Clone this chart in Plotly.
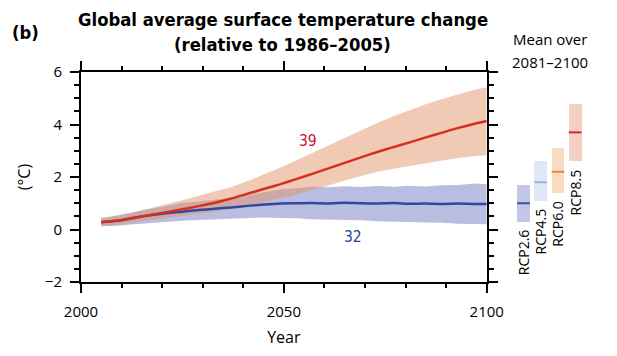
import plotly.graph_objects as go

# ---------------- data ----------------
years = [2005, 2009, 2013, 2017, 2021, 2025, 2029, 2033, 2037, 2041, 2045, 2049, 2053,
         2057, 2061, 2065, 2069, 2073, 2077, 2081, 2085, 2089, 2093, 2097, 2100]

rcp85_mean = [0.29, 0.34, 0.45, 0.55, 0.66, 0.77, 0.89, 1.02, 1.18, 1.36, 1.54, 1.72, 1.92,
              2.12, 2.33, 2.54, 2.75, 2.95, 3.14, 3.32, 3.51, 3.69, 3.87, 4.03, 4.13]
rcp85_high = [0.45, 0.52, 0.66, 0.80, 0.96, 1.11, 1.28, 1.44, 1.62, 1.84, 2.08, 2.35, 2.63,
              2.92, 3.22, 3.50, 3.79, 4.06, 4.31, 4.55, 4.77, 4.97, 5.15, 5.32, 5.42]
rcp85_low = [0.12, 0.18, 0.28, 0.36, 0.43, 0.50, 0.58, 0.68, 0.80, 0.92, 1.05, 1.18, 1.33,
             1.50, 1.68, 1.87, 2.05, 2.20, 2.31, 2.42, 2.53, 2.63, 2.72, 2.80, 2.83]

rcp26_mean = [0.28, 0.33, 0.44, 0.54, 0.62, 0.68, 0.74, 0.79, 0.84, 0.90, 0.95, 0.99, 1.00,
              1.01, 0.99, 1.02, 1.00, 0.99, 1.01, 0.98, 0.99, 0.97, 0.99, 0.97, 0.97]
rcp26_high = [0.42, 0.54, 0.68, 0.78, 0.92, 1.02, 1.07, 1.13, 1.20, 1.29, 1.42, 1.52, 1.58,
              1.63, 1.61, 1.65, 1.62, 1.66, 1.63, 1.67, 1.64, 1.69, 1.70, 1.75, 1.72]
rcp26_low = [0.12, 0.14, 0.20, 0.25, 0.30, 0.33, 0.36, 0.39, 0.40, 0.43, 0.46, 0.44, 0.43,
             0.39, 0.38, 0.35, 0.35, 0.31, 0.31, 0.29, 0.27, 0.26, 0.22, 0.21, 0.20]

model_counts = {"RCP8.5": 39, "RCP2.6": 32}
count_pos = {"RCP8.5": (2056, 3.38), "RCP2.6": (2067, -0.28)}

scenarios = ["RCP2.6", "RCP4.5", "RCP6.0", "RCP8.5"]
scen_mean = [1.0, 1.8, 2.2, 3.7]
scen_low = [0.3, 1.1, 1.4, 2.6]
scen_high = [1.7, 2.6, 3.1, 4.8]
scen_box_color = ["#c3c6e6", "#dfe8f7", "#f8dbc1", "#f3d0c6"]
scen_line_color = ["#3652a2", "#8fb6e2", "#e0893f", "#d8242b"]

x_ticks = [2000, 2050, 2100]
y_ticks = [-2, 0, 2, 4, 6]

RED_LINE = "#d5301e"
BLUE_LINE = "#2f4a9c"
LABEL_FONT = "Open Sans, Noto Sans, sans-serif"
TITLE_FONT = "DejaVu Sans Condensed, Liberation Sans Narrow, sans-serif"

fig = go.Figure()

# RCP2.6 band
fig.add_trace(go.Scatter(x=years, y=rcp26_low, mode="lines", line=dict(width=0),
                         hoverinfo="skip", showlegend=False))
fig.add_trace(go.Scatter(x=years, y=rcp26_high, mode="lines", line=dict(width=0),
                         fill="tonexty", fillcolor="rgb(185,189,224)", showlegend=False))
# RCP8.5 band
fig.add_trace(go.Scatter(x=years, y=rcp85_low, mode="lines", line=dict(width=0),
                         hoverinfo="skip", showlegend=False))
fig.add_trace(go.Scatter(x=years, y=rcp85_high, mode="lines", line=dict(width=0),
                         fill="tonexty", fillcolor="rgba(226,150,105,0.5)", showlegend=False))
# mean lines
fig.add_trace(go.Scatter(x=years, y=rcp26_mean, mode="lines",
                         line=dict(color=BLUE_LINE, width=2.5, shape="spline", smoothing=0.6),
                         showlegend=False))
fig.add_trace(go.Scatter(x=years, y=rcp85_mean, mode="lines",
                         line=dict(color=RED_LINE, width=2.5, shape="spline", smoothing=0.6),
                         showlegend=False))

# model counts
for name, col in (("RCP8.5", "#c8102e"), ("RCP2.6", "#2b3f8f")):
    cx, cy = count_pos[name]
    fig.add_annotation(x=cx, y=cy, xref="x", yref="y", text=str(model_counts[name]),
                       showarrow=False, xanchor="center", yanchor="middle",
                       font=dict(family=TITLE_FONT, size=15.5, color=col))

# right panel: boxes
idx = list(range(len(scenarios)))
fig.add_trace(go.Bar(x=idx, y=[h - l for h, l in zip(scen_high, scen_low)], base=scen_low,
                     width=0.74, marker=dict(color=scen_box_color, line=dict(width=0)),
                     xaxis="x2", yaxis="y", showlegend=False))
for i in idx:
    fig.add_trace(go.Scatter(x=[i - 0.37, i + 0.37], y=[scen_mean[i], scen_mean[i]],
                             mode="lines", line=dict(color=scen_line_color[i], width=2),
                             xaxis="x2", yaxis="y", showlegend=False))
    fig.add_annotation(x=i, y=scen_low[i], xref="x2", yref="y", text=scenarios[i],
                       textangle=-90, showarrow=False, xanchor="center", yanchor="top",
                       yshift=-6, font=dict(family=LABEL_FONT, size=14, color="black"))

# titles
def paper_text(x, y, text, font, size):
    fig.add_annotation(x=x, y=y, xref="paper", yref="paper", text=text,
                       showarrow=False, xanchor="center", yanchor="middle",
                       font=dict(family=font, size=size, color="black"))

paper_text(0.395, 1.248, "<b>Global average surface temperature change</b>", TITLE_FONT, 18.3)
paper_text(0.395, 1.129, "<b>(relative to 1986–2005)</b>", TITLE_FONT, 18.3)
paper_text(-0.108, 1.186, "<b>(b)</b>", TITLE_FONT, 18.3)
paper_text(0.918, 1.157, "Mean over", LABEL_FONT, 15)
paper_text(0.918, 1.048, "2081–2100", LABEL_FONT, 15)

axis_common = dict(showline=True, linecolor="black", linewidth=2, mirror="ticks",
                   ticks="outside", ticklen=9, tickwidth=2, tickcolor="black",
                   showgrid=False, zeroline=False, automargin=False,
                   tickfont=dict(family=LABEL_FONT, size=15, color="black"))

# page body has an 8px margin: figure is shrunk by 8px and margins measured from its corner
fig.update_layout(
    width=609, height=348,
    margin=dict(l=73, r=25, t=64, b=74),
    plot_bgcolor="white", paper_bgcolor="white",
    xaxis=dict(domain=[0, 0.794], range=[2000, 2100], tickvals=x_ticks,
               ticklabelstandoff=6,
               minor=dict(dtick=10, tick0=2000, ticks="outside", ticklen=4, tickwidth=1.5,
                          tickcolor="black"),
               title=dict(text="Year", standoff=12,
                          font=dict(family=LABEL_FONT, size=16, color="black")),
               **axis_common),
    yaxis=dict(range=[-2, 6], tickvals=y_ticks,
               ticktext=["−2", "0", "2", "4", "6"],
               ticklabelstandoff=5,
               minor=dict(dtick=0.5, tick0=0, ticks="outside", ticklen=5, tickwidth=1.5,
                          tickcolor="black"),
               title=dict(text="(°C)", standoff=10,
                          font=dict(family=LABEL_FONT, size=16, color="black")),
               **axis_common),
    xaxis2=dict(domain=[0.8297, 1.0], range=[-1.081, 3.977], anchor="y", visible=False,
                showgrid=False, zeroline=False, automargin=False),
    bargap=0,
)

fig.write_html("out.html")
